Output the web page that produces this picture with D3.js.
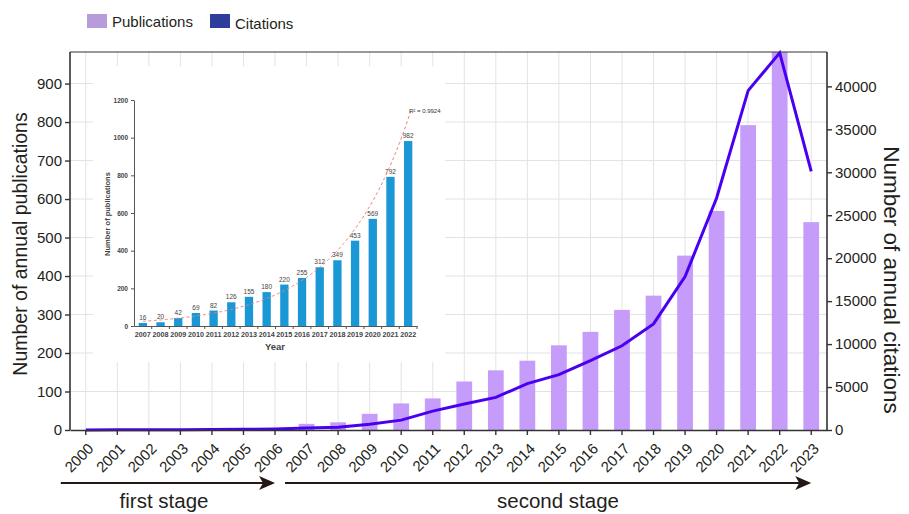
<!DOCTYPE html>
<html>
<head>
<meta charset="utf-8">
<script src="https://cdn.jsdelivr.net/npm/d3@7/dist/d3.min.js"></script>
<style>
  html, body { margin: 0; padding: 0; background: #fff; }
  svg { display: block; font-family: Arial, "Liberation Sans", sans-serif; }
</style>
</head>
<body>
<svg id="chart" width="909" height="514"></svg>
<script>
// Annual publications and citations, 2000–2023
const years = [2000, 2001, 2002, 2003, 2004, 2005, 2006, 2007, 2008, 2009, 2010, 2011,
               2012, 2013, 2014, 2015, 2016, 2017, 2018, 2019, 2020, 2021, 2022, 2023];
const publications = [0, 0, 1, 1, 1, 2, 3, 16, 20, 42, 69, 82,
                      126, 155, 180, 220, 255, 312, 349, 453, 569, 792, 982, 540];
const citations = [10, 20, 30, 40, 60, 80, 130, 220, 330, 680, 1150, 2200,
                   3020, 3800, 5400, 6450, 8070, 9800, 12350, 17850, 27000, 39500, 43900, 30100];
const leftTicks = [0, 100, 200, 300, 400, 500, 600, 700, 800, 900];
const rightTicks = [0, 5000, 10000, 15000, 20000, 25000, 30000, 35000, 40000];

// Inset: publications 2007–2022
const insetYears = [2007, 2008, 2009, 2010, 2011, 2012, 2013, 2014,
                    2015, 2016, 2017, 2018, 2019, 2020, 2021, 2022];
const insetPublications = [16, 20, 42, 69, 82, 126, 155, 180, 220, 255, 312, 349, 453, 569, 792, 982];
const insetTicks = [0, 200, 400, 600, 800, 1000, 1200];

const stages = [
  { label: "first stage", from: 2000, to: 2006 },
  { label: "second stage", from: 2006, to: 2023 }
];

const svg = d3.select("#chart");
const W = 909, H = 514;
const m = { left: 70, right: 82, top: 52, bottom: 84 };
const x0 = m.left, x1 = W - m.right, y0 = H - m.bottom, y1 = m.top;

const x = d3.scaleBand().domain(years).range([x0, x1]).padding(0);
const yL = d3.scaleLinear().domain([0, 982]).range([y0, y1]);
const yR = d3.scaleLinear().domain([0, 44000]).range([y0, y1]);

const axisColor = "#333";
const textColor = "#231f20";
const plain = d3.format("d");

// Grid
const grid = svg.append("g").attr("stroke", "#e3e3e3").attr("stroke-width", 1);
grid.selectAll("line.v").data(years).join("line")
  .attr("x1", d => x(d) + x.bandwidth() / 2).attr("x2", d => x(d) + x.bandwidth() / 2)
  .attr("y1", y1).attr("y2", y0);
grid.selectAll("line.h").data(leftTicks.filter(d => d > 0)).join("line")
  .attr("x1", x0).attr("x2", x1)
  .attr("y1", d => yL(d)).attr("y2", d => yL(d));

// Publications bars
const barW = x.bandwidth() * 0.5;
svg.append("g").selectAll("rect").data(years).join("rect")
  .attr("x", d => x(d) + (x.bandwidth() - barW) / 2)
  .attr("width", barW)
  .attr("y", (d, i) => yL(publications[i]))
  .attr("height", (d, i) => y0 - yL(publications[i]))
  .attr("fill", "#c69cfa");

// Citations line
const line = d3.line()
  .x((d, i) => x(years[i]) + x.bandwidth() / 2)
  .y(d => yR(d));
svg.append("path").datum(citations)
  .attr("d", line)
  .attr("fill", "none")
  .attr("stroke", "#4a00f0")
  .attr("stroke-width", 3)
  .attr("stroke-linejoin", "miter");

// Frame top line
svg.append("line").attr("x1", x0).attr("x2", x1).attr("y1", y1).attr("y2", y1)
  .attr("stroke", axisColor).attr("stroke-width", 1.2);

// Axes
const axL = svg.append("g").attr("transform", `translate(${x0},0)`)
  .call(d3.axisLeft(yL).tickValues(leftTicks).tickFormat(plain).tickSize(5).tickSizeOuter(0));
const axR = svg.append("g").attr("transform", `translate(${x1},0)`)
  .call(d3.axisRight(yR).tickValues(rightTicks).tickFormat(plain).tickSize(5).tickSizeOuter(0));
const axB = svg.append("g").attr("transform", `translate(0,${y0})`)
  .call(d3.axisBottom(x).tickSize(5).tickSizeOuter(0));

[axL, axR, axB].forEach(a => {
  a.select(".domain").attr("stroke", axisColor).attr("stroke-width", 1.6);
  a.selectAll(".tick line").attr("stroke", axisColor).attr("stroke-width", 1.4);
  a.selectAll(".tick text").attr("fill", textColor).attr("font-size", 15)
    .attr("font-family", "Arial, 'Liberation Sans', sans-serif");
});
axL.select(".domain").attr("d", `M0,${y0}V${y1}`);
axR.select(".domain").attr("d", `M0,${y0}V${y1}`);
axL.selectAll(".tick text").attr("x", -8);
axR.selectAll(".tick text").attr("x", 8);
axB.selectAll(".tick text")
  .attr("text-anchor", "end")
  .attr("transform", "translate(5,16) rotate(-45)")
  .attr("x", 0).attr("y", 0).attr("dy", "0.35em");

// Axis titles
svg.append("text")
  .attr("transform", `translate(27,${(y0 + y1) / 2 + 3}) rotate(-90)`)
  .attr("text-anchor", "middle").attr("font-size", 19.5).attr("fill", textColor)
  .text("Number of annual publications");
svg.append("text")
  .attr("transform", `translate(884,280) rotate(90)`)
  .attr("text-anchor", "middle").attr("font-size", 22.5).attr("fill", textColor)
  .text("Number of annual citations");

// Legend
const legend = [
  { label: "Publications", color: "#b79bdb", x: 87, ty: 27 },
  { label: "Citations", color: "#2e3c9c", x: 210, ty: 29 }
];
const lg = svg.append("g").selectAll("g").data(legend).join("g");
lg.append("rect").attr("x", d => d.x).attr("y", 14).attr("width", 20).attr("height", 14)
  .attr("fill", d => d.color);
lg.append("text").attr("x", d => d.x + 25).attr("y", d => d.ty)
  .attr("font-size", 15).attr("fill", textColor).text(d => d.label);

// Stage arrows
const cx = d => x(d) + x.bandwidth() / 2;
const arrowY = 483;
const stageG = svg.append("g").selectAll("g").data(stages).join("g");
stageG.append("line")
  .attr("x1", (d, i) => i === 0 ? cx(d.from) - 25 : cx(d.from) + 10)
  .attr("x2", d => cx(d.to) - 10)
  .attr("y1", arrowY).attr("y2", arrowY)
  .attr("stroke", "#231815").attr("stroke-width", 2);
stageG.append("path")
  .attr("d", d => {
    const t = cx(d.to);
    return `M${t},${arrowY} L${t - 16},${arrowY - 7} L${t - 12},${arrowY} L${t - 16},${arrowY + 7} Z`;
  })
  .attr("fill", "#231815");
stageG.append("text")
  .attr("x", (d, i) => i === 0 ? 164 : 558)
  .attr("y", 508)
  .attr("text-anchor", "middle").attr("font-size", 20.5).attr("fill", textColor)
  .text(d => d.label);

// ---- Inset chart ----
const inset = svg.append("g");
inset.append("rect").attr("x", 93).attr("y", 66).attr("width", 352).attr("height", 296).attr("fill", "#fff");

const ix0 = 134, ix1 = 417, iy0 = 326, iy1 = 100;
const ix = d3.scaleBand().domain(insetYears).range([ix0, ix1]).padding(0);
const iy = d3.scaleLinear().domain([0, 1200]).range([iy0, iy1]);
const ibW = ix.bandwidth() * 0.47;

inset.append("g").selectAll("rect").data(insetYears).join("rect")
  .attr("x", d => ix(d) + (ix.bandwidth() - ibW) / 2)
  .attr("width", ibW)
  .attr("y", (d, i) => iy(insetPublications[i]))
  .attr("height", (d, i) => iy0 - iy(insetPublications[i]))
  .attr("fill", "#1a98d6");

inset.append("g").selectAll("text").data(insetYears).join("text")
  .attr("x", d => ix(d) + ix.bandwidth() / 2)
  .attr("y", (d, i) => iy(insetPublications[i]) - 3)
  .attr("text-anchor", "middle").attr("font-size", 6.5).attr("fill", "#444")
  .text((d, i) => insetPublications[i]);

// Exponential trend fitted to the inset series
const tIdx = insetPublications.map((d, i) => i);
const lnV = insetPublications.map(Math.log);
const tMean = d3.mean(tIdx), lMean = d3.mean(lnV);
const slope = d3.sum(tIdx, (t, i) => (t - tMean) * (lnV[i] - lMean)) / d3.sum(tIdx, t => (t - tMean) ** 2);
const icept = lMean - slope * tMean;
const tEnd = insetPublications.length - 1 + 0.15;
const trendT = d3.range(0, tEnd + 0.001, 0.05);
const step = ix.step();
inset.append("path").datum(trendT)
  .attr("d", d3.line()
    .x(t => ix(insetYears[0]) + ix.bandwidth() / 2 + t * step)
    .y(t => iy(Math.exp(icept + slope * t))))
  .attr("fill", "none").attr("stroke", "#f07b7b").attr("stroke-width", 1)
  .attr("stroke-dasharray", "3,2.5");
inset.append("text").attr("x", 409).attr("y", 113).attr("font-size", 6).attr("fill", "#333")
  .text("R² = 0.9924");

const iaL = inset.append("g").attr("transform", `translate(${ix0},0)`)
  .call(d3.axisLeft(iy).tickValues(insetTicks).tickFormat(plain).tickSize(3).tickSizeOuter(0));
iaL.select(".domain").attr("stroke", "#555").attr("stroke-width", 1);
iaL.selectAll(".tick line").attr("stroke", "#555");
iaL.selectAll(".tick text").attr("font-size", 6.5).attr("font-weight", "bold").attr("fill", "#444")
  .attr("x", -6).attr("font-family", "Arial, 'Liberation Sans', sans-serif");

const iaB = inset.append("g").attr("transform", `translate(0,${iy0})`)
  .call(d3.axisBottom(ix).tickSize(0).tickSizeOuter(0));
iaB.select(".domain").attr("stroke", "#555").attr("stroke-width", 1);
iaB.selectAll(".tick text").attr("font-size", 7.2).attr("font-weight", "bold").attr("fill", "#444")
  .attr("y", 6).attr("font-family", "Arial, 'Liberation Sans', sans-serif");
inset.append("g").selectAll("line").data(insetYears).join("line")
  .attr("x1", (d, i) => ix0 + (i + 1) * step).attr("x2", (d, i) => ix0 + (i + 1) * step)
  .attr("y1", iy0).attr("y2", iy0 + 3).attr("stroke", "#555");

inset.append("text").attr("x", 275).attr("y", 350).attr("text-anchor", "middle")
  .attr("font-size", 9.5).attr("font-weight", "bold").attr("fill", "#444").text("Year");
inset.append("text").attr("transform", `translate(110,214) rotate(-90)`).attr("text-anchor", "middle")
  .attr("font-size", 7.5).attr("font-weight", "bold").attr("fill", "#444").text("Number of publications");
</script>
</body>
</html>
